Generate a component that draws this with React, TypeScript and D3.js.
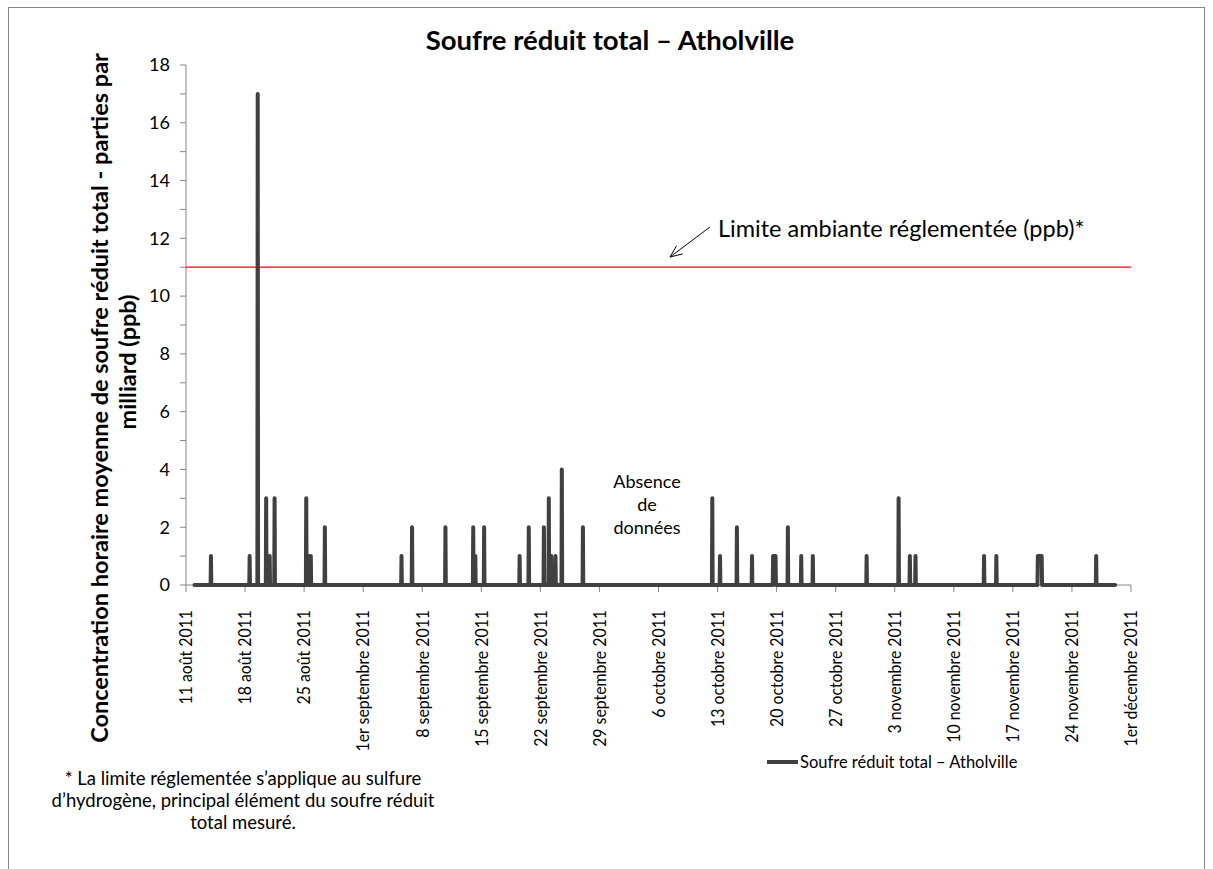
import * as d3 from 'd3';

// hourly readings that were not zero: [hour, ppb, number of consecutive hours]
const readings: [string, number, number][] = [
  ['2011-08-13T23:00', 1, 1],
  ['2011-08-18T13:00', 1, 1],
  ['2011-08-19T12:00', 17, 1],
  ['2011-08-20T12:00', 3, 1],
  ['2011-08-20T22:00', 1, 1],
  ['2011-08-21T12:00', 3, 1],
  ['2011-08-25T06:00', 3, 1],
  ['2011-08-25T15:00', 1, 1],
  ['2011-08-25T19:00', 1, 1],
  ['2011-08-27T11:00', 2, 1],
  ['2011-09-05T13:00', 1, 1],
  ['2011-09-06T19:00', 2, 1],
  ['2011-09-10T18:00', 2, 1],
  ['2011-09-14T01:00', 2, 1],
  ['2011-09-14T07:00', 1, 1],
  ['2011-09-15T08:00', 2, 1],
  ['2011-09-19T13:00', 1, 1],
  ['2011-09-20T15:00', 2, 1],
  ['2011-09-22T10:00', 2, 1],
  ['2011-09-23T00:00', 3, 1],
  ['2011-09-23T07:00', 1, 1],
  ['2011-09-23T19:00', 1, 1],
  ['2011-09-24T13:00', 4, 1],
  ['2011-09-27T01:00', 2, 1],
  ['2011-10-12T09:00', 3, 1],
  ['2011-10-13T07:00', 1, 1],
  ['2011-10-15T07:00', 2, 1],
  ['2011-10-17T02:00', 1, 1],
  ['2011-10-19T14:00', 1, 8],
  ['2011-10-21T08:00', 2, 1],
  ['2011-10-22T22:00', 1, 1],
  ['2011-10-24T07:00', 1, 1],
  ['2011-10-30T16:00', 1, 1],
  ['2011-11-03T11:00', 3, 1],
  ['2011-11-04T19:00', 1, 1],
  ['2011-11-05T11:00', 1, 1],
  ['2011-11-13T14:00', 1, 1],
  ['2011-11-15T01:00', 1, 1],
  ['2011-11-19T23:00', 1, 12],
  ['2011-11-26T21:00', 1, 1],
];
const seriesStart = '2011-08-12T00:00';
const seriesEnd = '2011-11-29T03:00';

const tickDates = [
  '2011-08-11', '2011-08-18', '2011-08-25', '2011-09-01', '2011-09-08', '2011-09-15',
  '2011-09-22', '2011-09-29', '2011-10-06', '2011-10-13', '2011-10-20', '2011-10-27',
  '2011-11-03', '2011-11-10', '2011-11-17', '2011-11-24', '2011-12-01',
];
const tickLabels = [
  '11 août 2011', '18 août 2011', '25 août 2011', '1er septembre 2011', '8 septembre 2011',
  '15 septembre 2011', '22 septembre 2011', '29 septembre 2011', '6 octobre 2011',
  '13 octobre 2011', '20 octobre 2011', '27 octobre 2011', '3 novembre 2011',
  '10 novembre 2011', '17 novembre 2011', '24 novembre 2011', '1er décembre 2011',
];
const yTicks = [0, 2, 4, 6, 8, 10, 12, 14, 16, 18];
const limit = 11;

const title = 'Soufre réduit total – Atholville';
const seriesName = 'Soufre réduit total – Atholville';
const yTitle = ['Concentration horaire moyenne de soufre réduit total  - parties par', 'milliard (ppb)'];
const limitLabel = 'Limite ambiante réglementée (ppb)*';
const gapLabel = ['Absence', 'de', 'données'];
const footnote = [
  '* La limite réglementée s’applique au sulfure',
  'd’hydrogène, principal élément du soufre réduit',
  'total mesuré.',
];

const font = 'Lato, "Open Sans", sans-serif';
const axisGrey = '#868686';
const lineGrey = '#404040';

const parse = (s: string) => new Date(s.length === 10 ? s + 'T00:00' : s);

const App = () => {
  const left = 186;
  const right = 1131;
  const top = 65;
  const bottom = 585;

  const x = d3.scaleTime().domain([parse(tickDates[0]), parse(tickDates[tickDates.length - 1])]).range([left, right]);
  const y = d3.scaleLinear().domain([0, 18]).range([bottom, top]);

  // expand readings to hourly points; hours not listed are 0 ppb
  const hour = 3600 * 1000;
  const hourly: { date: Date; value: number }[] = [];
  readings.forEach(([t, v, n]) => {
    for (let i = 0; i < n; i++) hourly.push({ date: new Date(+parse(t) + i * hour), value: v });
  });
  const known = new Set(hourly.map((d) => +d.date));
  const points: { date: Date; value: number }[] = [{ date: parse(seriesStart), value: 0 }];
  hourly.forEach((d) => {
    const t = +d.date;
    if (!known.has(t - hour)) points.push({ date: new Date(t - hour), value: 0 });
    points.push(d);
    if (!known.has(t + hour)) points.push({ date: new Date(t + hour), value: 0 });
  });
  points.push({ date: parse(seriesEnd), value: 0 });

  const line = d3
    .line<{ date: Date; value: number }>()
    .x((d) => x(d.date))
    .y((d) => y(d.value));

  const minor = d3.range(0, 19);

  // arrow toward the limit line
  const ax1 = 710, ay1 = 227, ax2 = 670, ay2 = 257;
  const ang = Math.atan2(ay1 - ay2, ax1 - ax2);
  const barb = (a: number) => `M${ax2 + 13 * Math.cos(ang + a)},${ay2 + 13 * Math.sin(ang + a)}L${ax2},${ay2}`;

  return (
    <div style={{ position: 'absolute', left: 0, top: 0 }}>
      <svg width={1213} height={869} style={{ display: 'block', background: '#fff' }}>
        <rect x={8.5} y={7.5} width={1196} height={900} fill="#fff" stroke={axisGrey} strokeWidth={1} />

        <text x={610} y={50} textAnchor="middle" fontFamily={font} fontWeight="bold" fontSize={27.5} fill="#000">
          {title}
        </text>

        {/* y axis */}
        <line x1={left} x2={left} y1={top} y2={bottom} stroke={axisGrey} />
        {minor.map((v) => (
          <line key={v} x1={left - 6} x2={left} y1={y(v)} y2={y(v)} stroke={axisGrey} />
        ))}
        {yTicks.map((v) => (
          <text key={v} x={left - 16} y={y(v)} dy="0.35em" textAnchor="end" fontFamily={font} fontSize={18} fill="#000">
            {v}
          </text>
        ))}

        {/* x axis */}
        <line x1={left} x2={right} y1={bottom} y2={bottom} stroke={axisGrey} />
        {tickDates.map((d, i) => {
          const px = x(parse(d));
          return (
            <g key={d}>
              <line x1={px} x2={px} y1={bottom} y2={bottom + 7} stroke={axisGrey} />
              <text
                transform={`translate(${px},${bottom + 25}) rotate(-90) scale(0.88,1)`}
                dy="0.35em"
                textAnchor="end"
                fontFamily={font}
                fontSize={18}
                fill="#000"
              >
                {tickLabels[i]}
              </text>
            </g>
          );
        })}

        {/* limit line */}
        <line x1={left} x2={right} y1={y(limit)} y2={y(limit)} stroke="#ff0000" strokeWidth={1.2} />

        {/* series */}
        <path d={line(points) ?? ''} fill="none" stroke={lineGrey} strokeWidth={4} strokeLinejoin="round" strokeLinecap="round" />

        {/* annotations */}
        <line x1={ax1} y1={ay1} x2={ax2} y2={ay2} stroke="#000" strokeWidth={1} />
        <path d={barb(0.4) + barb(-0.4)} fill="none" stroke="#000" strokeWidth={1} />
        <text x={718} y={237} fontFamily={font} fontSize={23.5} fill="#000">
          {limitLabel}
        </text>
        {gapLabel.map((s, i) => (
          <text key={s} x={647} y={488 + i * 23} textAnchor="middle" fontFamily={font} fontSize={18} fill="#000">
            {s}
          </text>
        ))}

        {/* y axis title */}
        <text transform="translate(108,398) rotate(-90)" textAnchor="middle" fontFamily={font} fontWeight="bold" fontSize={23.5} fill="#000">
          {yTitle[0]}
        </text>
        <text transform="translate(136,362) rotate(-90)" textAnchor="middle" fontFamily={font} fontWeight="bold" fontSize={23.5} fill="#000">
          {yTitle[1]}
        </text>

        {/* legend */}
        <line x1={767} x2={798} y1={762} y2={762} stroke={lineGrey} strokeWidth={4} />
        <text x={800} y={768} fontFamily={font} fontSize={16.5} fill="#000">
          {seriesName}
        </text>

        {/* footnote */}
        {footnote.map((s, i) => (
          <text key={i} x={243} y={785 + i * 22} textAnchor="middle" fontFamily={font} fontSize={18.5} fill="#000">
            {s}
          </text>
        ))}
      </svg>
    </div>
  );
};

export default App;
